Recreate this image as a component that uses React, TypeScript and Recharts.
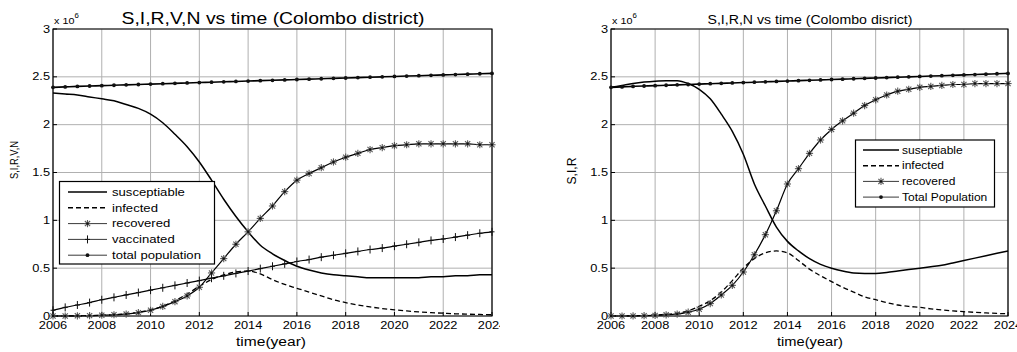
import React from "react";
import { LineChart, Line, XAxis, YAxis, CartesianGrid, ReferenceArea } from "recharts";

// time axis, half-year steps
const years = [
  2006, 2006.5, 2007, 2007.5, 2008, 2008.5, 2009, 2009.5, 2010, 2010.5, 2011, 2011.5, 2012, 2012.5,
  2013, 2013.5, 2014, 2014.5, 2015, 2015.5, 2016, 2016.5, 2017, 2017.5, 2018, 2018.5, 2019, 2019.5,
  2020, 2020.5, 2021, 2021.5, 2022, 2022.5, 2023, 2023.5, 2024,
];
const xTicks = [2006, 2008, 2010, 2012, 2014, 2016, 2018, 2020, 2022, 2024];
const yTicks = [0, 0.5, 1, 1.5, 2, 2.5, 3];

// values in millions (x 10^6)
const totalPopulation = [
  2.39, 2.395, 2.4, 2.404, 2.408, 2.412, 2.416, 2.42, 2.424, 2.428, 2.432, 2.436, 2.44, 2.444,
  2.448, 2.452, 2.456, 2.46, 2.464, 2.468, 2.472, 2.476, 2.48, 2.484, 2.488, 2.492, 2.496, 2.5,
  2.504, 2.508, 2.512, 2.516, 2.52, 2.524, 2.528, 2.532, 2.536,
];

// left panel: S,I,R,V,N
const leftSusceptible = [
  2.33, 2.32, 2.31, 2.29, 2.27, 2.25, 2.21, 2.17, 2.11, 2.02, 1.9, 1.77, 1.61, 1.42,
  1.22, 1.04, 0.88, 0.74, 0.65, 0.58, 0.52, 0.48, 0.45, 0.43, 0.42, 0.41, 0.4, 0.4,
  0.4, 0.4, 0.4, 0.41, 0.41, 0.42, 0.42, 0.43, 0.43,
];
const leftInfected = [
  0, 0, 0.002, 0.004, 0.008, 0.013, 0.022, 0.038, 0.065, 0.1, 0.16, 0.23, 0.31, 0.38,
  0.43, 0.46, 0.47, 0.44, 0.38, 0.33, 0.29, 0.25, 0.21, 0.17, 0.14, 0.115, 0.095, 0.078,
  0.065, 0.053, 0.043, 0.035, 0.029, 0.023, 0.019, 0.016, 0.013,
];
const leftRecovered = [
  0, 0, 0.002, 0.004, 0.008, 0.013, 0.02, 0.035, 0.06, 0.1, 0.15, 0.21, 0.3, 0.45,
  0.6, 0.75, 0.88, 1.02, 1.15, 1.3, 1.42, 1.49, 1.55, 1.61, 1.66, 1.7, 1.74, 1.76,
  1.78, 1.79, 1.8, 1.8, 1.8, 1.8, 1.8, 1.79, 1.79,
];
const leftVaccinated = [
  0.06, 0.09, 0.115, 0.14, 0.17, 0.195, 0.22, 0.245, 0.27, 0.295, 0.32, 0.345, 0.37, 0.395,
  0.42, 0.445, 0.47, 0.495, 0.52, 0.545, 0.57, 0.59, 0.615, 0.635, 0.655, 0.675, 0.695, 0.71,
  0.73, 0.75, 0.77, 0.79, 0.805, 0.825, 0.845, 0.865, 0.88,
];

// right panel: S,I,R,N
const rightSusceptible = [
  2.39, 2.41, 2.43, 2.445, 2.455, 2.46, 2.46, 2.43, 2.37, 2.27, 2.11, 1.93, 1.69, 1.38,
  1.15, 0.93, 0.78, 0.68, 0.6, 0.54, 0.5, 0.47, 0.45, 0.445, 0.445, 0.455, 0.47, 0.485,
  0.5, 0.515, 0.53, 0.555, 0.58, 0.605, 0.63, 0.655, 0.68,
];
const rightInfected = [
  0, 0.001, 0.002, 0.005, 0.01, 0.018, 0.03, 0.055, 0.1, 0.16, 0.25, 0.37, 0.5, 0.6,
  0.66, 0.68, 0.66, 0.58, 0.49, 0.42, 0.36, 0.3, 0.25, 0.2, 0.17, 0.14, 0.115, 0.1,
  0.09, 0.075, 0.063, 0.053, 0.045, 0.038, 0.032, 0.027, 0.023,
];
const rightRecovered = [
  0, 0, 0.001, 0.003, 0.006, 0.012, 0.02, 0.04, 0.07, 0.13, 0.22, 0.32, 0.46, 0.64,
  0.85, 1.1, 1.38, 1.54, 1.7, 1.84, 1.95, 2.04, 2.12, 2.2, 2.26, 2.31, 2.35, 2.37,
  2.39, 2.4, 2.41, 2.42, 2.42, 2.43, 2.43, 2.43, 2.43,
];

const leftData = years.map((t, i) => ({
  t,
  s: leftSusceptible[i],
  i: leftInfected[i],
  r: leftRecovered[i],
  v: leftVaccinated[i],
  n: totalPopulation[i],
}));
const rightData = years.map((t, i) => ({
  t,
  s: rightSusceptible[i],
  i: rightInfected[i],
  r: rightRecovered[i],
  n: totalPopulation[i],
}));

const FONT = "Arial, 'Liberation Sans', Helvetica, sans-serif";
// the source image is stretched sideways, so text is widened a bit
const STRETCH = 1.28;

function Star({ cx, cy }: { cx: number; cy: number }) {
  const r = 3.6;
  const d = 2.6;
  return (
    <g stroke="#5a5a5a" strokeWidth={1.1}>
      <line x1={cx - r} y1={cy} x2={cx + r} y2={cy} />
      <line x1={cx} y1={cy - r} x2={cx} y2={cy + r} />
      <line x1={cx - d} y1={cy - d} x2={cx + d} y2={cy + d} />
      <line x1={cx - d} y1={cy + d} x2={cx + d} y2={cy - d} />
      <circle cx={cx} cy={cy} r={1.2} fill="#111" stroke="none" />
    </g>
  );
}

function Plus({ cx, cy }: { cx: number; cy: number }) {
  return (
    <g stroke="#111" strokeWidth={1}>
      <line x1={cx - 2.5} y1={cy} x2={cx + 2.5} y2={cy} />
      <line x1={cx} y1={cy - 4} x2={cx} y2={cy + 4} />
    </g>
  );
}

function Dot({ cx, cy }: { cx: number; cy: number }) {
  return <circle cx={cx} cy={cy} r={1.9} fill="#111" />;
}

const markers: Record<string, (p: any) => React.ReactElement> = {
  star: (p: any) => <Star key={"st" + p.index} cx={p.cx} cy={p.cy} />,
  plus: (p: any) => <Plus key={"pl" + p.index} cx={p.cx} cy={p.cy} />,
  dot: (p: any) => <Dot key={"dt" + p.index} cx={p.cx} cy={p.cy} />,
};

type Series = { key: string; name: string; kind: "solid" | "dashed" | "star" | "plus" | "dot" };

const leftSeries: Series[] = [
  { key: "s", name: "susceptiable", kind: "solid" },
  { key: "i", name: "infected", kind: "dashed" },
  { key: "r", name: "recovered", kind: "star" },
  { key: "v", name: "vaccinated", kind: "plus" },
  { key: "n", name: "total population", kind: "dot" },
];
const rightSeries: Series[] = [
  { key: "s", name: "suseptiable", kind: "solid" },
  { key: "i", name: "infected", kind: "dashed" },
  { key: "r", name: "recovered", kind: "star" },
  { key: "n", name: "Total Population", kind: "dot" },
];

function renderLine(s: Series) {
  const common = { key: s.key, dataKey: s.key, type: "monotone" as const, isAnimationActive: false, name: s.name };
  if (s.kind === "solid") return <Line {...common} stroke="#000" strokeWidth={1.5} dot={false} />;
  if (s.kind === "dashed") return <Line {...common} stroke="#000" strokeWidth={1.3} strokeDasharray="5 3" dot={false} />;
  if (s.kind === "dot") return <Line {...common} stroke="#000" strokeWidth={1.6} dot={markers.dot} />;
  return <Line {...common} stroke="#000" strokeWidth={1.2} dot={markers[s.kind]} />;
}

function XTick(props: any) {
  const { x, y, payload } = props;
  return (
    <g transform={`translate(${x},${y + 11}) scale(${STRETCH},1)`}>
      <text x={0} y={0} textAnchor="middle" fontSize={10} fontFamily={FONT} fill="#000">
        {payload.value}
      </text>
    </g>
  );
}

function YTick(props: any) {
  const { x, y, payload } = props;
  return (
    <g transform={`translate(${x + 1},${y + 3.6}) scale(${STRETCH},1)`}>
      <text x={0} y={0} textAnchor="end" fontSize={10} fontFamily={FONT} fill="#000">
        {payload.value}
      </text>
    </g>
  );
}

function Panel({ data, series, left, width, marginLeft, marginRight }: any) {
  return (
    <div style={{ position: "absolute", left, top: 0 }}>
      <LineChart width={width} height={352} data={data} margin={{ top: 29, right: marginRight, bottom: 16, left: marginLeft }}>
        <CartesianGrid stroke="#b0b0b0" strokeWidth={1} horizontalValues={yTicks} verticalValues={xTicks} />
        <XAxis
          dataKey="t"
          type="number"
          domain={[2006, 2024]}
          ticks={xTicks}
          height={20}
          tickSize={-4}
          tickMargin={6}
          tick={<XTick />}
          stroke="#000"
          axisLine={false}
          interval={0}
        />
        <YAxis
          type="number"
          domain={[0, 3]}
          ticks={yTicks}
          width={30}
          tickSize={-4}
          tickMargin={8}
          tick={<YTick />}
          stroke="#000"
          axisLine={false}
          interval={0}
        />
        {series.map(renderLine)}
        <ReferenceArea x1={2006} x2={2024} y1={0} y2={3} fill="none" stroke="#000" strokeWidth={1.2} ifOverflow="visible" />
      </LineChart>
    </div>
  );
}

function LegendBox({ x, y, w, h, series, rowStart, rowStep, sampleX1, sampleX2, textX, fontSize, stretch }: any) {
  return (
    <g>
      <rect x={x} y={y} width={w} height={h} fill="#fff" stroke="#000" strokeWidth={1.2} />
      {series.map((s: Series, k: number) => {
        const cy = rowStart + k * rowStep;
        const mid = (sampleX1 + sampleX2) / 2;
        return (
          <g key={s.key}>
            {s.kind === "solid" && <line x1={sampleX1} y1={cy} x2={sampleX2} y2={cy} stroke="#000" strokeWidth={1.6} />}
            {s.kind === "dashed" && (
              <line x1={sampleX1} y1={cy} x2={sampleX2} y2={cy} stroke="#000" strokeWidth={1.5} strokeDasharray="5 3" />
            )}
            {(s.kind === "star" || s.kind === "plus" || s.kind === "dot") && (
              <g>
                <line x1={sampleX1} y1={cy} x2={sampleX2} y2={cy} stroke="#222" strokeWidth={0.9} />
                {s.kind === "star" && <Star cx={mid} cy={cy} />}
                {s.kind === "plus" && <Plus cx={mid} cy={cy} />}
                {s.kind === "dot" && <Dot cx={mid} cy={cy} />}
              </g>
            )}
            <g transform={`translate(${textX},${cy + fontSize * 0.36}) scale(${stretch},1)`}>
              <text x={0} y={0} fontSize={fontSize} fontFamily={FONT} fill="#000">
                {s.name}
              </text>
            </g>
          </g>
        );
      })}
    </g>
  );
}

export default function App() {
  return (
    <div style={{ position: "absolute", left: 0, top: 0, width: 1017, height: 352, background: "#fff", overflow: "hidden" }}>
      <Panel data={leftData} series={leftSeries} left={0} width={500} marginLeft={23} marginRight={8} />
      <Panel data={rightData} series={rightSeries} left={510} width={507} marginLeft={71} marginRight={9} />
      <svg width={1017} height={352} style={{ position: "absolute", left: 0, top: 0, pointerEvents: "none" }}>
        <text x={273} y={24} textAnchor="middle" fontSize={16} fontFamily={FONT} fill="#000" textLength={303} lengthAdjust="spacingAndGlyphs">
          S,I,R,V,N vs time (Colombo district)
        </text>
        <text x={810} y={24} textAnchor="middle" fontSize={12.5} fontFamily={FONT} fill="#000" textLength={205} lengthAdjust="spacingAndGlyphs">
          S,I,R,N vs time (Colombo disrict)
        </text>
        <g transform={`translate(54,24) scale(1.2,1)`}>
          <text x={0} y={0} fontSize={9} fontFamily={FONT} fill="#000">
            x 10<tspan dy={-6} fontSize={6.5}>6</tspan>
          </text>
        </g>
        <g transform={`translate(612,24) scale(1.2,1)`}>
          <text x={0} y={0} fontSize={9} fontFamily={FONT} fill="#000">
            x 10<tspan dy={-6} fontSize={6.5}>6</tspan>
          </text>
        </g>
        <text x={18} y={160} transform="rotate(-90 18 160)" textAnchor="middle" fontSize={10} fontFamily={FONT} fill="#000" textLength={38} lengthAdjust="spacingAndGlyphs">
          S,I,R,V,N
        </text>
        <text x={576} y={171} transform="rotate(-90 576 171)" textAnchor="middle" fontSize={12} fontFamily={FONT} fill="#000" textLength={27} lengthAdjust="spacingAndGlyphs">
          S,I,R
        </text>
        <text x={271} y={346} textAnchor="middle" fontSize={12} fontFamily={FONT} fill="#000" textLength={70} lengthAdjust="spacingAndGlyphs">
          time(year)
        </text>
        <text x={810} y={346} textAnchor="middle" fontSize={12} fontFamily={FONT} fill="#000" textLength={66} lengthAdjust="spacingAndGlyphs">
          time(year)
        </text>
        <LegendBox
          x={59.5}
          y={181.5}
          w={155}
          h={82.5}
          series={leftSeries}
          rowStart={192}
          rowStep={15.8}
          sampleX1={68}
          sampleX2={107}
          textX={112}
          fontSize={10.5}
          stretch={1.25}
        />
        <LegendBox
          x={855.5}
          y={140}
          w={139}
          h={67}
          series={rightSeries}
          rowStart={150}
          rowStep={15.7}
          sampleX1={863}
          sampleX2={899}
          textX={902}
          fontSize={10}
          stretch={1.2}
        />
      </svg>
    </div>
  );
}
